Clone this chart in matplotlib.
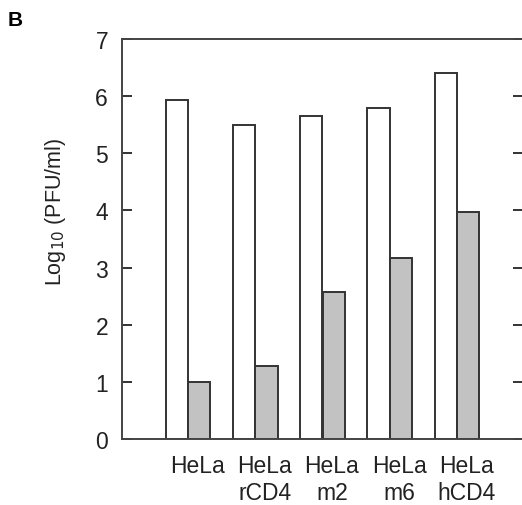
import numpy as np
import matplotlib
matplotlib.use('Agg')
import matplotlib.pyplot as plt

plt.rcParams['font.family'] = ['Liberation Sans', 'DejaVu Sans']

cells = ['HeLa', 'HeLa\nrCD4', 'HeLa\nm2', 'HeLa\nm6', 'HeLa\nhCD4']
open_vals = [5.94, 5.49, 5.65, 5.80, 6.40]
gray_vals = [1.00, 1.28, 2.58, 3.17, 3.97]

fig = plt.figure(figsize=(5.22, 5.06), dpi=100)
ax = fig.add_axes([122/522, 1-440/506, 401/522, 400/506])

x = np.arange(len(cells))
w = 0.333
ax.bar(x - w/2, open_vals, w, facecolor='white', edgecolor='#333333', linewidth=1.4)
ax.bar(x + w/2, gray_vals, w, facecolor='#c2c2c2', edgecolor='#333333', linewidth=1.4)

ax.set_xlim(-0.98, 4.98)
ax.set_ylim(0, 7)
ax.set_yticks(range(8))
ax.set_xticks(x + 0.14)
ax.set_xticklabels(cells, fontsize=16.5, linespacing=1.2, color='#222222')
ax.tick_params(axis='x', length=0, pad=11)
ax.tick_params(axis='y', direction='in', length=7, width=1.4, pad=10,
               labelsize=16.5, right=True, colors='#333333', labelcolor='#222222')
for s in ax.spines.values():
    s.set_linewidth(1.4)
    s.set_color('#444444')

ax.set_ylabel('Log$_{10}$ (PFU/ml)', fontsize=15.5, color='#222222')
ax.yaxis.set_label_coords(-0.135, 0.57)
fig.text(8/522, 1-20/506, 'B', fontsize=15, fontweight='bold', va='center', ha='left')

fig.savefig('out.png', dpi=100)
